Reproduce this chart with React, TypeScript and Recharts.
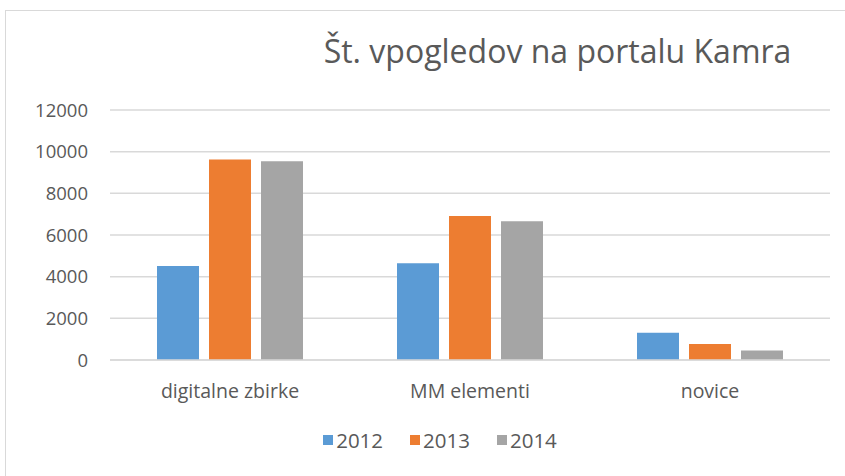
import { BarChart, Bar, XAxis, YAxis, CartesianGrid, Legend } from "recharts";

const categories = ["digitalne zbirke", "MM elementi", "novice"];
const views2012 = [4510, 4640, 1310];
const views2013 = [9620, 6910, 770];
const views2014 = [9540, 6660, 460];
const yTicks = [0, 2000, 4000, 6000, 8000, 10000, 12000];

const SERIES = [
    { key: "y2012", name: "2012", color: "#5B9BD5" },
    { key: "y2013", name: "2013", color: "#ED7D31" },
    { key: "y2014", name: "2014", color: "#A5A5A5" },
];

const FONT = "'Open Sans', 'DejaVu Sans', sans-serif";
const TEXT = "#595959";

const data = categories.map((name, i) => ({
    name,
    y2012: views2012[i],
    y2013: views2013[i],
    y2014: views2014[i],
}));

function LegendBox() {
    return (
        <div style={{ display: "flex", justifyContent: "center", gap: 27, fontFamily: FONT, fontSize: 20.5, color: TEXT }}>
            {SERIES.map((s) => (
                <div key={s.key} style={{ display: "flex", alignItems: "center" }}>
                    <span style={{ width: 10, height: 10, background: s.color, marginRight: 3, display: "inline-block" }} />
                    <span>{s.name}</span>
                </div>
            ))}
        </div>
    );
}

export default function App() {
    return (
        <div style={{ position: "absolute", left: 0, top: 0, width: 845, height: 476, background: "#fff" }}>
            <div
                style={{
                    position: "absolute",
                    left: 5,
                    top: 10,
                    width: 840,
                    height: 466,
                    borderLeft: "1.5px solid #d9d9d9",
                    borderTop: "1.5px solid #d9d9d9",
                }}
            />
            <div
                style={{
                    position: "absolute",
                    left: 0,
                    width: 845,
                    top: 29,
                    paddingLeft: 270,
                    boxSizing: "border-box",
                    textAlign: "center",
                    fontFamily: FONT,
                    fontSize: 32,
                    color: TEXT,
                }}
            >
                Št. vpogledov na portalu Kamra
            </div>
            <BarChart
                width={845}
                height={476}
                data={data}
                margin={{ top: 110, right: 15, left: 0, bottom: 86 }}
                barSize={42}
                barGap={10}
                style={{ position: "absolute", left: 0, top: 0 }}
            >
                <CartesianGrid vertical={false} stroke="#d9d9d9" strokeWidth={1.5} />
                <XAxis
                    dataKey="name"
                    height={30}
                    axisLine={{ stroke: "#d9d9d9", strokeWidth: 1.5 }}
                    tickLine={false}
                    tickSize={0}
                    tickMargin={24}
                    tick={{ fill: TEXT, fontSize: 19.5, fontFamily: FONT }}
                />
                <YAxis
                    width={110}
                    domain={[0, 12000]}
                    ticks={yTicks}
                    axisLine={false}
                    tickLine={false}
                    tickSize={0}
                    tickMargin={22}
                    tick={{ fill: TEXT, fontSize: 18.5, fontFamily: FONT }}
                />
                <Legend
                    verticalAlign="middle"
                    align="center"
                    layout="horizontal"
                    content={() => <LegendBox />}
                    wrapperStyle={{ top: 426, left: 100, width: 680 }}
                />
                {SERIES.map((s) => (
                    <Bar key={s.key} dataKey={s.key} name={s.name} fill={s.color} isAnimationActive={false} />
                ))}
            </BarChart>
        </div>
    );
}
